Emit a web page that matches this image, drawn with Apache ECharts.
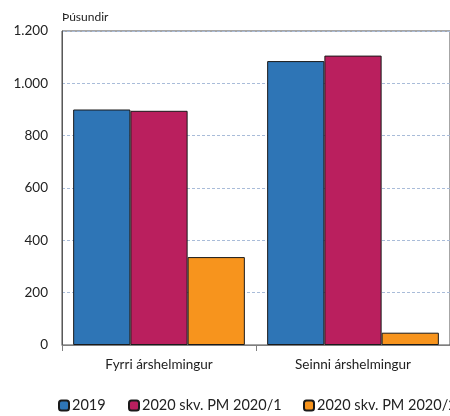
<!DOCTYPE html>
<html><head><meta charset="utf-8">
<script src="https://cdn.jsdelivr.net/npm/echarts@6/dist/echarts.min.js"></script>
<style>html,body{margin:0;padding:0;background:#fff}#c{width:450px;height:416px}</style>
</head><body><div id="c"></div>
<script>
const categories = ['Fyrri árshelmingur', 'Seinni árshelmingur'];
const seriesNames = ['2019', '2020 skv. PM 2020/1', '2020 skv. PM 2020/2'];
const values2019 = [900, 1085];
const valuesPM1 = [895, 1106];
const valuesPM2 = [336, 47];
const colors = ['#2E75B6', '#BA1F5E', '#F7941D'];
const yUnit = 'Þúsundir';

const font = 'Lato, "Open Sans", sans-serif';
const chart = echarts.init(document.getElementById('c'));
const data = [values2019, valuesPM1, valuesPM2];
const legendLefts = [58, 128, 303];
chart.setOption({
  animation: false,
  textStyle: {fontFamily: font},
  grid: {left: 62, right: -5, top: 31, bottom: 71, show: true, borderColor: '#4d4d4d', borderWidth: 1},
  graphic: [{type: 'text', left: 62, top: 11, style: {text: yUnit, font: '12px ' + font, fill: '#222'}}],
  legend: seriesNames.map((n, i) => ({
    left: legendLefts[i], top: 398, itemWidth: 10, itemHeight: 10, padding: 0,
    textStyle: {fontFamily: font, fontSize: 14.5, color: '#222', padding: [0, 0, 0, -2]},
    data: [n]
  })),
  xAxis: {
    type: 'category', data: categories,
    axisLine: {lineStyle: {color: '#7f7f7f'}},
    axisTick: {show: true, length: 6, lineStyle: {color: '#7f7f7f'}},
    axisLabel: {fontSize: 13.5, color: '#222', margin: 13, fontFamily: font}
  },
  yAxis: {
    type: 'value', min: 0, max: 1200, interval: 200,
    axisLine: {show: true, lineStyle: {color: '#595959'}},
    axisTick: {show: false},
    axisLabel: {fontSize: 13.5, color: '#222', margin: 14, fontFamily: font,
      formatter: v => v >= 1000 ? Math.floor(v/1000) + '.' + String(v%1000).padStart(3,'0') : String(v)},
    splitLine: {lineStyle: {color: '#A9BCD9', type: [3, 2]}}
  },
  series: seriesNames.map((n, i) => ({
    name: n, type: 'bar', data: data[i],
    barGap: '0%', barCategoryGap: '11.5%',
    itemStyle: {color: colors[i], borderColor: '#1a1a1a', borderWidth: 1}
  }))
});
</script></body></html>
